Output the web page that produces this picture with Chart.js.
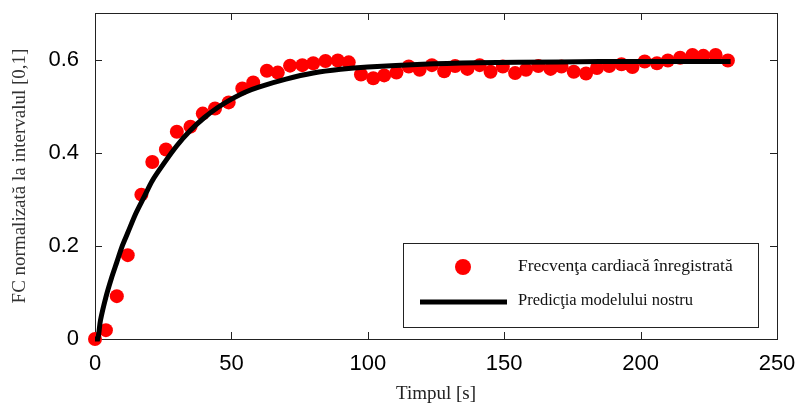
<!DOCTYPE html>
<html>
<head>
<meta charset="utf-8">
<script src="https://cdn.jsdelivr.net/npm/chart.js@4.4.1/dist/chart.umd.min.js"></script>
<style>
  html, body { margin: 0; padding: 0; background: #fff; }
  #wrap { width: 798px; height: 405px; }
</style>
</head>
<body>
<div id="wrap"><canvas id="chartcontainer" width="798" height="405"></canvas></div>
<script>
// valori (timp in secunde, FC normalizata)
var timpMasurat = [0, 4, 8, 12, 17, 21, 26, 30, 35, 39.5, 44, 49, 54, 58, 63, 67, 71.5, 76, 80, 84.5,
  89, 93, 97.5, 102, 106, 110.5, 115, 119, 123.5, 128, 132, 136.5, 141, 145, 149.5, 154, 158, 162.5,
  167, 171, 175.5, 180, 184, 188.5, 193, 197, 201.5, 206, 210, 214.5, 219, 223, 227.5, 232];
var fcMasurata = [0.0, 0.019, 0.092, 0.18, 0.31, 0.38, 0.407, 0.445, 0.456, 0.484, 0.495, 0.508, 0.538, 0.551,
  0.576, 0.572, 0.587, 0.588, 0.592, 0.597, 0.598, 0.594, 0.568, 0.56, 0.566, 0.572, 0.585, 0.578,
  0.588, 0.575, 0.586, 0.58, 0.588, 0.574, 0.585, 0.571, 0.578, 0.586, 0.58, 0.585, 0.574, 0.57,
  0.582, 0.586, 0.59, 0.584, 0.596, 0.592, 0.598, 0.604, 0.61, 0.608, 0.61, 0.598];

var timpModel = [0, 1, 2, 4, 6, 8, 10, 12, 15, 18, 21, 25, 30, 35, 40, 45, 50, 55, 60, 70, 80, 90,
  100, 120, 140, 170, 200, 233];
var fcModel = [0, 0.0, 0.04, 0.09, 0.13, 0.165, 0.2, 0.228, 0.27, 0.305, 0.34, 0.375, 0.415, 0.448,
  0.475, 0.497, 0.515, 0.53, 0.541, 0.558, 0.571, 0.579, 0.584, 0.59, 0.593, 0.595, 0.596, 0.596];

var xTicks = [0, 50, 100, 150, 200, 250];
var yTicks = [0, 0.2, 0.4, 0.6];

var etichete = ["Frecvenţa cardiacă înregistrată", "Predicţia modelului nostru"];

function puncte(xs, ys) {
  var out = [];
  for (var i = 0; i < xs.length; i++) out.push({ x: xs[i], y: ys[i] });
  return out;
}

// cadru cu liniute spre interior, ca in matlab
var cadru = {
  id: "cadru",
  beforeDatasetsDraw: function(chart) {
    var c = chart.ctx, a = chart.chartArea;
    var sx = chart.scales.x, sy = chart.scales.y;
    c.save();
    c.strokeStyle = "#222";
    c.lineWidth = 1;
    c.strokeRect(a.left + 0.5, a.top + 0.5, a.right - a.left, a.bottom - a.top);
    c.beginPath();
    xTicks.forEach(function(v) {
      var px = Math.round(sx.getPixelForValue(v)) + 0.5;
      c.moveTo(px, a.bottom); c.lineTo(px, a.bottom - 7);
      c.moveTo(px, a.top); c.lineTo(px, a.top + 7);
    });
    yTicks.forEach(function(v) {
      var py = Math.round(sy.getPixelForValue(v)) + 0.5;
      c.moveTo(a.left, py); c.lineTo(a.left + 7, py);
      c.moveTo(a.right, py); c.lineTo(a.right - 7, py);
    });
    c.stroke();
    c.restore();
  },
  afterDraw: function(chart) {
    var c = chart.ctx;
    c.save();
    // legenda
    c.fillStyle = "#fff";
    c.fillRect(403, 243, 355, 84);
    c.strokeStyle = "#222";
    c.lineWidth = 1;
    c.strokeRect(403.5, 243.5, 355, 84);
    c.fillStyle = "#ff0000";
    c.beginPath();
    c.arc(463, 267, 8, 0, Math.PI * 2);
    c.fill();
    c.strokeStyle = "#000";
    c.lineWidth = 5;
    c.beginPath();
    c.moveTo(420, 302); c.lineTo(507, 302);
    c.stroke();
    c.fillStyle = "#111";
    c.textBaseline = "middle";
    c.font = "17.5px 'Liberation Serif'";
    c.fillText(etichete[0], 518, 266);
    c.font = "16.5px 'Liberation Serif'";
    c.fillText(etichete[1], 518, 301);
    c.restore();
  }
};

var ctx = document.getElementById("chartcontainer").getContext("2d");
var chart = new Chart(ctx, {
  type: "scatter",
  data: {
    datasets: [{
      label: etichete[1],
      data: puncte(timpModel, fcModel),
      showLine: true,
      borderColor: "#000",
      borderWidth: 5,
      pointRadius: 0,
      tension: 0.3,
      clip: false,
      order: 0
    }, {
      label: etichete[0],
      data: puncte(timpMasurat, fcMasurata),
      backgroundColor: "#ff0000",
      borderColor: "#ff0000",
      pointRadius: 7,
      borderWidth: 0,
      clip: false,
      order: 1
    }]
  },
  options: {
    responsive: false,
    animation: false,
    layout: { padding: { left: 0, right: 21, top: 13, bottom: 0 } },
    plugins: {
      legend: { display: false },
      tooltip: { enabled: false }
    },
    scales: {
      x: {
        type: "linear",
        min: 0, max: 250,
        afterBuildTicks: function(s) { s.ticks = xTicks.map(function(v) { return { value: v }; }); },
        afterFit: function(s) { s.height = 66; s.paddingLeft = 0; s.paddingRight = 0; },
        grid: { display: false },
        border: { display: false },
        ticks: { color: "#000", font: { family: "'Liberation Sans'", size: 22 }, padding: 4, maxRotation: 0 },
        title: { display: true, text: "Timpul [s]", color: "#222", font: { family: "'Liberation Serif'", size: 19 }, padding: { top: 4, bottom: 0 } }
      },
      y: {
        min: 0, max: 0.7,
        afterBuildTicks: function(s) { s.ticks = yTicks.map(function(v) { return { value: v }; }); },
        afterFit: function(s) { s.width = 95; s.paddingTop = 0; s.paddingBottom = 0; },
        grid: { display: false },
        border: { display: false },
        ticks: { color: "#000", font: { family: "'Liberation Sans'", size: 22 }, padding: 8,
          callback: function(v) { return v === 0 ? "0" : v.toFixed(1); } },
        title: { display: true, text: "FC normalizată la intervalul [0,1]", color: "#333", font: { family: "'Liberation Serif'", size: 19 }, padding: { top: 9, bottom: 0 } }
      }
    }
  },
  plugins: [cadru]
});
</script>
</body>
</html>
